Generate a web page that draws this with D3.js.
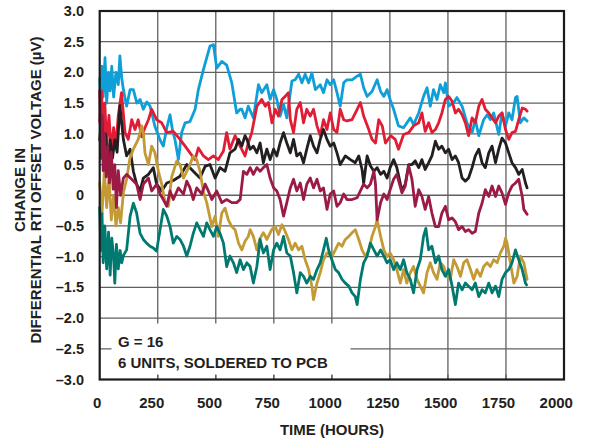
<!DOCTYPE html>
<html><head><meta charset="utf-8">
<script src="https://cdn.jsdelivr.net/npm/d3@7"></script>
<style>body{margin:0;background:#fff}svg{display:block}</style>
</head><body>
<script>
// ---- data ----
const xTicks = [0,250,500,750,1000,1250,1500,1750,2000];
const yTicks = [3,2.5,2,1.5,1,0.5,0,-0.5,-1,-1.5,-2,-2.5,-3];
const yTickLabels = ["3.0","2.5","2.0","1.5","1.0","0.5","0","\u20130.5","\u20131.0","\u20131.5","\u20132.0","\u20132.5","\u20133.0"];
const xTitle = "TIME (HOURS)";
const yTitle = ["CHANGE IN","DIFFERENTIAL RTI OFFSET VOLTAGE (\u00b5V)"];
const notes = ["G = 16","6 UNITS, SOLDERED TO PCB"];

const cyanSeries = [[0,1.9],[5,1.4],[10,2.1],[15,1.6],[23,2.24],[30,1.5],[38,2.0],[45,1.7],[52,2.1],[60,1.6],[70,2.0],[80,1.8],[87,2.27],[95,1.9],[102,1.72],[116,1.45],[131,1.72],[145,1.72],[160,1.5],[174,1.56],[188,1.4],[203,1.52],[217,1.45],[238,1.12],[260,0.9],[274,0.8],[289,1.1],[303,1.31],[314,1.05],[324,0.91],[339,0.58],[353,1.02],[368,1.18],[389,1.2],[411,1.4],[425,1.72],[447,2.05],[475,2.43],[490,2.45],[504,2.07],[526,2.18],[547,2.12],[569,1.83],[590,1.34],[605,1.40],[612,1.4],[626,1.26],[640,1.45],[662,1.26],[684,1.80],[698,1.67],[720,1.80],[734,1.56],[749,1.72],[763,1.56],[777,1.29],[792,1.48],[806,1.26],[828,1.86],[842,1.88],[857,1.97],[871,1.83],[885,1.97],[900,1.83],[914,1.99],[929,1.72],[950,1.80],[964,1.67],[979,1.88],[993,1.80],[1008,1.88],[1022,1.67],[1036,1.45],[1051,1.83],[1065,1.88],[1087,1.88],[1109,1.94],[1123,1.97],[1137,1.75],[1152,1.61],[1173,1.69],[1195,1.88],[1210,1.69],[1224,1.61],[1238,1.72],[1251,1.56],[1266,1.40],[1287,1.13],[1309,1.10],[1338,1.26],[1352,1.15],[1374,1.34],[1395,1.61],[1410,1.75],[1424,1.45],[1438,1.72],[1453,1.56],[1467,1.80],[1482,1.67],[1489,1.83],[1503,1.45],[1525,1.51],[1539,1.59],[1561,1.45],[1582,1.18],[1604,1.02],[1618,1.23],[1633,0.97],[1654,1.23],[1669,1.31],[1683,1.23],[1697,1.34],[1719,0.99],[1733,1.34],[1748,1.13],[1762,1.34],[1776,1.23],[1791,1.59],[1798,1.61],[1812,1.18],[1827,1.26],[1841,1.21]];

const redSeries = [[0,1.2],[8,1.7],[15,0.9],[22,1.5],[30,0.8],[40,1.3],[50,0.7],[60,1.1],[70,0.8],[80,1.3],[94,1.67],[109,1.02],[123,0.91],[138,1.23],[152,1.07],[166,1.23],[181,0.95],[195,1.1],[210,1.23],[224,1.40],[245,1.23],[267,1.18],[289,1.02],[317,1.04],[346,0.91],[368,0.80],[389,0.69],[411,0.58],[425,0.77],[447,0.64],[468,0.58],[490,0.64],[511,0.58],[533,0.72],[547,1.02],[561,0.75],[583,0.97],[605,0.80],[626,0.64],[640,0.85],[655,1.02],[677,1.45],[698,1.56],[713,1.45],[727,1.51],[742,1.18],[756,1.40],[770,1.29],[785,1.56],[799,1.61],[813,1.67],[821,1.23],[835,1.02],[849,1.40],[864,1.51],[878,1.18],[892,1.40],[907,1.29],[921,1.40],[936,1.13],[950,0.97],[964,1.23],[979,1.07],[993,1.34],[1008,1.07],[1022,1.02],[1036,1.40],[1051,1.23],[1065,1.21],[1087,1.23],[1109,1.40],[1123,1.51],[1137,1.29],[1159,1.07],[1173,0.91],[1188,0.85],[1202,1.23],[1217,1.13],[1231,0.85],[1253,0.97],[1273,0.91],[1287,0.75],[1309,0.99],[1331,1.02],[1352,1.13],[1374,1.18],[1388,1.34],[1402,1.04],[1417,1.18],[1431,1.02],[1446,1.07],[1460,1.18],[1474,1.34],[1489,1.56],[1503,1.61],[1518,1.53],[1532,1.34],[1546,1.40],[1561,1.31],[1575,1.18],[1589,0.97],[1604,1.26],[1618,1.18],[1633,1.45],[1647,1.56],[1661,1.40],[1676,1.34],[1690,1.26],[1705,1.18],[1719,1.29],[1733,1.34],[1748,1.07],[1762,0.91],[1776,1.02],[1791,1.04],[1805,1.23],[1820,1.42],[1834,1.40],[1841,1.37]];

const blackSeries = [[0,0.9],[8,1.3],[15,0.6],[25,1.0],[35,0.5],[45,0.9],[55,0.6],[65,0.9],[75,0.7],[87,1.46],[102,0.91],[116,0.64],[131,0.75],[145,0.39],[159,0.18],[174,0.07],[188,0.28],[210,0.34],[231,0.45],[245,0.18],[267,0.07],[289,0.2],[317,0.24],[346,0.31],[375,0.50],[403,0.39],[432,0.28],[454,0.47],[475,0.50],[497,0.28],[518,0.45],[540,0.39],[561,0.69],[583,0.75],[598,0.91],[612,0.80],[626,0.97],[634,0.91],[648,0.75],[662,0.80],[677,0.69],[691,0.85],[705,0.53],[720,0.75],[734,0.58],[749,0.75],[763,0.64],[777,0.85],[792,1.02],[806,0.85],[821,0.69],[835,0.91],[849,0.64],[864,0.69],[878,0.53],[892,0.75],[907,0.97],[921,0.80],[936,0.69],[950,0.91],[964,1.07],[979,0.91],[993,0.80],[1008,0.85],[1022,0.69],[1036,0.50],[1058,0.64],[1080,0.58],[1101,0.53],[1116,0.64],[1130,0.42],[1137,0.2],[1152,0.64],[1166,0.48],[1181,0.39],[1195,0.45],[1210,0.34],[1224,0.39],[1238,0.28],[1251,0.45],[1266,0.58],[1280,0.45],[1302,0.07],[1316,0.18],[1331,0.50],[1345,0.50],[1359,0.56],[1374,0.45],[1388,0.58],[1402,0.42],[1417,0.53],[1431,0.64],[1446,0.88],[1460,0.75],[1474,0.80],[1489,0.69],[1503,0.75],[1518,0.58],[1532,0.64],[1546,0.53],[1561,0.28],[1575,0.23],[1589,0.28],[1604,0.45],[1618,0.64],[1633,0.75],[1647,0.53],[1661,0.45],[1676,0.69],[1690,0.80],[1705,0.53],[1719,0.75],[1733,0.93],[1748,0.85],[1762,0.69],[1776,0.53],[1791,0.45],[1805,0.34],[1820,0.42],[1834,0.20],[1841,0.12]];

const maroonSeries = [[0,1.7],[5,0.6],[10,1.3],[15,0.4],[20,1.0],[28,0.3],[35,0.8],[42,0.2],[50,0.7],[58,0.1],[65,0.5],[72,-0.2],[80,0.4],[90,0.0],[102,0.28],[116,0.34],[138,0.26],[159,0.18],[174,-0.07],[188,0.18],[210,0.28],[224,0.07],[245,0.18],[260,0.02],[274,-0.07],[289,-0.18],[303,0.07],[317,-0.07],[339,0.12],[361,0.02],[375,0.23],[389,0.12],[403,-0.07],[418,0.12],[440,0.02],[454,0.18],[468,0.07],[483,-0.07],[504,0.07],[526,-0.12],[547,-0.07],[569,-0.12],[590,-0.12],[605,-0.07],[619,0.39],[634,0.34],[648,0.45],[662,0.34],[677,0.45],[691,0.39],[705,0.45],[720,0.50],[734,0.28],[749,0.12],[763,0.07],[777,-0.07],[792,-0.34],[806,-0.12],[821,0.12],[835,0.26],[849,0.07],[864,0.20],[878,-0.07],[892,0.18],[907,0.28],[921,0.12],[936,0.26],[950,0.07],[964,0.12],[979,-0.23],[993,0.02],[1008,0.07],[1022,-0.18],[1036,-0.12],[1051,0.02],[1065,-0.07],[1087,-0.07],[1109,-0.04],[1123,0.07],[1137,0.18],[1152,0.12],[1166,0.18],[1181,0.39],[1188,0.18],[1195,-0.4],[1210,-0.12],[1224,0.02],[1238,-0.07],[1251,0.09],[1266,0.26],[1280,0.34],[1302,0.04],[1316,0.15],[1331,0.48],[1345,0.26],[1359,-0.18],[1374,0.09],[1388,-0.02],[1402,-0.23],[1417,-0.02],[1431,-0.29],[1446,-0.51],[1460,-0.51],[1474,-0.29],[1489,-0.18],[1503,-0.40],[1518,-0.37],[1532,-0.43],[1546,-0.56],[1561,-0.51],[1575,-0.59],[1589,-0.56],[1604,-0.62],[1618,-0.59],[1633,-0.29],[1647,-0.13],[1661,0.09],[1676,-0.02],[1690,0.15],[1705,-0.02],[1719,0.15],[1733,0.04],[1748,-0.15],[1762,0.04],[1776,0.15],[1791,0.20],[1805,0.26],[1820,-0.02],[1827,-0.23],[1841,-0.31]];

const goldSeries = [[0,0.2],[10,-0.3],[20,0.4],[30,-0.2],[40,0.3],[50,-0.4],[60,0.0],[70,-0.5],[80,-0.2],[90,-0.45],[102,0.04],[116,0.26],[130,0.6],[145,0.75],[166,0.91],[181,1.13],[188,1.02],[195,0.69],[210,0.50],[224,0.80],[238,0.69],[253,0.39],[267,0.18],[281,-0.1],[296,-0.18],[310,0.3],[332,0.56],[346,0.50],[361,0.28],[375,0.39],[389,0.50],[403,0.64],[418,0.58],[432,0.39],[447,0.05],[461,-0.12],[483,-0.51],[497,-0.34],[511,-0.67],[526,-0.29],[540,-0.21],[554,-0.40],[569,-0.51],[583,-0.56],[598,-0.78],[612,-0.89],[626,-0.75],[640,-0.67],[648,-0.56],[662,-0.67],[677,-0.89],[691,-0.7],[705,-0.61],[720,-0.72],[741,-0.56],[756,-0.51],[770,-0.64],[785,-0.48],[799,-0.59],[813,-0.72],[828,-0.89],[842,-0.78],[857,-0.89],[871,-0.83],[885,-1.05],[900,-1.21],[914,-1.48],[921,-1.70],[936,-1.43],[950,-1.26],[964,-1.05],[979,-0.94],[1000,-1.00],[1015,-0.89],[1029,-0.78],[1044,-0.83],[1058,-0.72],[1073,-0.67],[1087,-0.61],[1101,-0.56],[1116,-0.72],[1130,-0.89],[1145,-1.00],[1159,-0.89],[1173,-0.67],[1188,-0.51],[1195,-0.40],[1210,-0.67],[1224,-0.89],[1238,-1.00],[1251,-0.94],[1266,-1.05],[1280,-1.21],[1295,-1.43],[1309,-1.21],[1323,-1.43],[1338,-1.26],[1352,-1.16],[1367,-1.37],[1381,-1.48],[1395,-1.59],[1410,-1.26],[1424,-1.10],[1438,-1.26],[1453,-1.37],[1467,-1.10],[1482,-1.16],[1496,-1.32],[1510,-1.37],[1525,-1.05],[1539,-1.16],[1554,-1.32],[1568,-1.10],[1582,-1.05],[1597,-1.21],[1611,-1.37],[1625,-1.21],[1640,-1.32],[1654,-1.16],[1669,-1.10],[1683,-1.16],[1697,-1.05],[1712,-1.10],[1726,-0.94],[1741,-0.83],[1748,-0.70],[1755,-0.78],[1769,-1.10],[1784,-1.43],[1798,-1.32],[1812,-0.99],[1827,-1.10],[1841,-1.37]];

const tealSeries = [[0,-0.2],[5,-0.9],[10,-0.3],[15,-1.1],[22,-0.5],[30,-1.2],[38,-0.6],[45,-1.3],[52,-0.7],[60,-1.0],[65,-1.43],[72,-0.8],[80,-1.2],[88,-0.9],[95,-1.1],[102,-0.98],[116,-0.89],[131,-0.34],[145,-0.13],[159,-0.29],[174,-0.62],[188,-0.72],[202,-0.78],[217,-0.83],[231,-0.86],[245,-0.91],[260,-0.56],[274,-0.23],[289,-0.34],[303,-0.51],[317,-0.78],[332,-0.67],[346,-0.72],[361,-0.83],[375,-0.99],[389,-0.83],[403,-0.62],[418,-0.45],[432,-0.56],[447,-0.67],[461,-0.45],[475,-0.56],[490,-0.67],[504,-0.51],[518,-0.62],[533,-0.78],[547,-1.16],[561,-0.99],[576,-1.10],[590,-1.26],[605,-1.05],[619,-1.21],[634,-1.1],[648,-1.16],[662,-1.43],[677,-1.16],[691,-0.72],[705,-0.94],[720,-0.83],[734,-1.21],[749,-0.89],[763,-0.78],[777,-0.89],[792,-0.67],[806,-0.94],[821,-0.99],[835,-1.26],[849,-1.59],[864,-1.26],[878,-1.32],[892,-1.43],[907,-1.32],[921,-1.37],[936,-1.21],[950,-1.10],[964,-0.89],[976,-0.70],[986,-0.89],[1000,-1.05],[1015,-1.21],[1029,-1.26],[1044,-1.37],[1058,-1.43],[1073,-1.48],[1087,-1.59],[1101,-1.65],[1109,-1.78],[1123,-1.37],[1137,-1.10],[1152,-0.99],[1166,-0.78],[1181,-0.89],[1195,-0.99],[1210,-0.89],[1224,-0.99],[1238,-1.10],[1251,-1.05],[1266,-1.21],[1280,-1.10],[1295,-1.21],[1309,-1.05],[1323,-1.26],[1338,-1.37],[1352,-1.59],[1367,-1.21],[1381,-1.05],[1395,-0.67],[1405,-0.54],[1417,-0.89],[1431,-0.83],[1446,-1.10],[1460,-0.99],[1474,-1.21],[1489,-1.32],[1503,-1.21],[1518,-1.48],[1532,-1.78],[1546,-1.43],[1561,-1.54],[1575,-1.43],[1589,-1.48],[1604,-1.54],[1618,-1.43],[1633,-1.65],[1647,-1.54],[1661,-1.59],[1676,-1.43],[1690,-1.59],[1705,-1.48],[1719,-1.65],[1733,-1.37],[1748,-1.26],[1762,-1.21],[1776,-1.10],[1791,-0.89],[1805,-1.05],[1820,-1.21],[1834,-1.43],[1839,-1.46]];

const seriesList = [
  {name:"cyan", data:cyanSeries, color:"#0e9fd8"},
  {name:"red", data:redSeries, color:"#e11d36"},
  {name:"black", data:blackSeries, color:"#231f20"},
  {name:"gold", data:goldSeries, color:"#c39a34"},
  {name:"maroon", data:maroonSeries, color:"#9b1b45"},
  {name:"teal", data:tealSeries, color:"#007a70"}
];

// ---- layout ----
const W = 591, H = 440;
const L = 99.7, R = 564, T = 11, B = 379.5;
const font = "'Liberation Sans', Arial, Helvetica, sans-serif";

const svg = d3.select("body").append("svg").attr("width", W).attr("height", H);
const x = d3.scaleLinear().domain([0,2000]).range([L,R]);
const y = d3.scaleLinear().domain([-3,3]).range([B,T]);

// grid
const grid = svg.append("g").attr("stroke","#606060").attr("stroke-width",1.3);
grid.selectAll("line.v").data(xTicks.slice(1,-1)).join("line")
  .attr("x1",d=>x(d)).attr("x2",d=>x(d)).attr("y1",T).attr("y2",B);
grid.selectAll("line.h").data(yTicks.slice(1,-1)).join("line")
  .attr("x1",L).attr("x2",R).attr("y1",d=>y(d)).attr("y2",d=>y(d));

// series
const line = d3.line().x(d=>x(d[0])).y(d=>y(d[1]));
svg.append("g").selectAll("path").data(seriesList).join("path")
  .attr("d",d=>line(d.data)).attr("fill","none")
  .attr("stroke",d=>d.color).attr("stroke-width",2.8)
  .attr("stroke-linejoin","round").attr("stroke-linecap","round");

// annotation box
svg.append("rect").attr("x",111.5).attr("y",323.5).attr("width",239).attr("height",51.5).attr("fill","#fff");
svg.append("g").attr("stroke","#606060").attr("stroke-width",1.3)
  .selectAll("line").data(xTicks.slice(1,-1)).join("line")
  .attr("x1",d=>x(d)).attr("x2",d=>x(d)).attr("y1",B-5).attr("y2",B);

// frame
svg.append("rect").attr("x",L).attr("y",T).attr("width",R-L).attr("height",B-T)
  .attr("fill","none").attr("stroke","#1a1a1a").attr("stroke-width",2.2);

// tick labels
svg.append("g").selectAll("text").data(yTicks).join("text")
  .attr("x",84).attr("y",d=>y(d)+5).attr("text-anchor","end")
  .attr("font-family",font).attr("font-weight","bold").attr("font-size",14.5).attr("fill","#231f20")
  .text((d,i)=>yTickLabels[i]);
svg.append("g").selectAll("text").data(xTicks).join("text")
  .attr("x",d=>d===0 ? x(d)-2.5 : x(d)-6-(d-250)*0.001).attr("y",407.5).attr("text-anchor","middle")
  .attr("font-family",font).attr("font-weight","bold").attr("font-size",15).attr("fill","#231f20")
  .text(d=>d);

// titles
svg.append("text").attr("x",332).attr("y",435).attr("text-anchor","middle")
  .attr("font-family",font).attr("font-weight","bold").attr("font-size",15).attr("fill","#231f20").text(xTitle);
const yt = svg.append("g").attr("transform","translate(0,190) rotate(-90)");
yt.selectAll("text").data(yTitle).join("text")
  .attr("x",0).attr("y",(d,i)=>25+i*16).attr("text-anchor","middle")
  .attr("font-family",font).attr("font-weight","bold").attr("font-size",15).attr("fill","#231f20").text(d=>d);

// notes
svg.append("g").selectAll("text").data(notes).join("text")
  .attr("x",118).attr("y",(d,i)=>346.5+i*21.7)
  .attr("font-family",font).attr("font-weight","bold").attr("font-size",15).attr("fill","#231f20").text(d=>d);
</script>
</body></html>
